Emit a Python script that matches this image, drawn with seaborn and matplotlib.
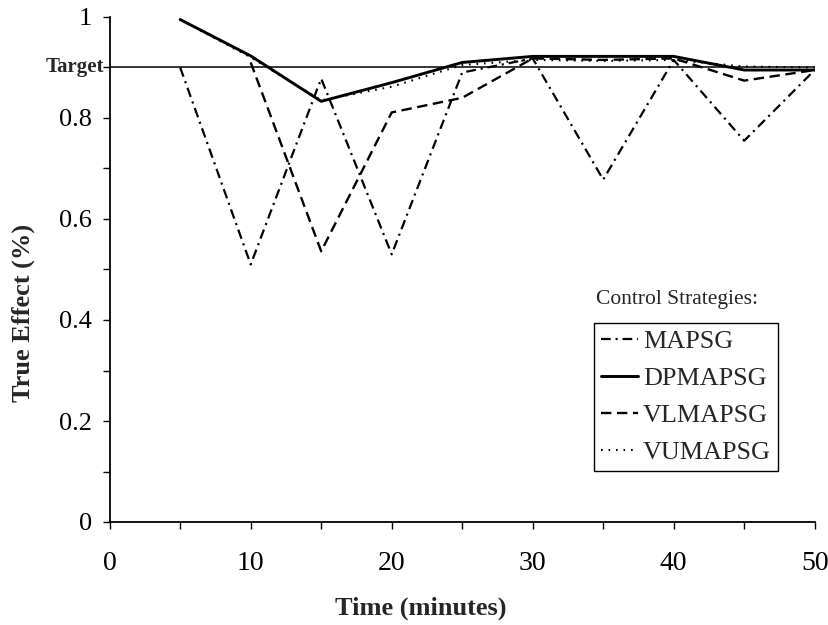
import numpy as np
import pandas as pd
import matplotlib
matplotlib.use("Agg")
import matplotlib.pyplot as plt
import matplotlib.transforms as mtransforms
import seaborn as sns

# ---- data ----
time_min = [5, 10, 15, 20, 25, 30, 35, 40, 45, 50]
mapsg   = [0.900, 0.510, 0.878, 0.530, 0.890, 0.918, 0.678, 0.915, 0.755, 0.895]
dpmapsg = [0.995, 0.923, 0.833, 0.870, 0.910, 0.922, 0.922, 0.922, 0.895, 0.895]
vlmapsg = [np.nan, 0.910, 0.536, 0.811, 0.840, 0.918, 0.915, 0.918, 0.874, 0.895]
vumapsg = [0.995, 0.920, 0.835, 0.862, 0.905, 0.915, 0.913, 0.915, 0.902, 0.900]
series_names = ["MAPSG", "DPMAPSG", "VLMAPSG", "VUMAPSG"]
TARGET = 0.9
y_major = [0, 0.2, 0.4, 0.6, 0.8, 1]
y_major_labels = ["0", "0.2", "0.4", "0.6", "0.8", "1"]
y_minor = [0.1, 0.3, 0.5, 0.7, 0.9]
x_ticks = [0, 10, 20, 30, 40, 50]
x_minor = [5, 15, 25, 35, 45]

sns.set_style("ticks")
plt.rcParams["font.family"] = ["Liberation Serif", "DejaVu Serif"]
plt.rcParams["lines.scale_dashes"] = False

fig = plt.figure(figsize=(8.29, 6.25), dpi=100)
ax = fig.add_axes([109.7 / 829, 103 / 625, 705 / 829, 505 / 625])

styles = {
    "MAPSG":   dict(linestyle=(0, (7, 3.5, 1.5, 3.5)), linewidth=1.6),
    "DPMAPSG": dict(linestyle="-", linewidth=2.1),
    "VLMAPSG": dict(linestyle=(0, (7.5, 4)), linewidth=1.7),
    "VUMAPSG": dict(linestyle=(0, (1.2, 4.2)), linewidth=1.5),
}
values = {"MAPSG": mapsg, "DPMAPSG": dpmapsg, "VLMAPSG": vlmapsg, "VUMAPSG": vumapsg}

ax.axhline(TARGET, color="black", linewidth=1.1, zorder=1)

for name in series_names:
    df = pd.DataFrame({"t": time_min, "v": values[name]}).dropna()
    sns.lineplot(data=df, x="t", y="v", ax=ax, color="black", label=name,
                 zorder=3, **styles[name])

ax.set_xlim(0, 50)
ax.set_ylim(0, 1)
ax.set_xticks(x_ticks)
ax.set_xticks(x_minor, minor=True)
ax.set_yticks(y_major)
ax.set_yticklabels(y_major_labels)
ax.set_yticks(y_minor, minor=True)

for s in ["top", "right"]:
    ax.spines[s].set_visible(False)
for s in ["left", "bottom"]:
    ax.spines[s].set_linewidth(1.3)
    ax.spines[s].set_color("black")

ax.tick_params(axis="x", which="both", direction="out", length=5, width=1.0,
               labelsize=20, pad=16, colors="black")
ax.tick_params(axis="y", which="both", direction="out", length=5, width=1.0,
               labelsize=19, pad=7.5, colors="black")

ax.set_xlabel("Time (minutes)", fontsize=19, fontweight="bold")
ax.set_ylabel("True Effect (%)", fontsize=19, fontweight="bold")
ax.xaxis.label.set_va("center")
ax.xaxis.set_label_coords(0.4415, -0.170)
ax.yaxis.set_label_coords(-0.106, 0.414)

trans = mtransforms.blended_transform_factory(ax.transAxes, ax.transData)
ax.text(-0.008, TARGET, "Target", transform=trans, ha="right", va="center",
        fontsize=15, fontweight="bold")

ax.text(0.69, 0.44, "Control Strategies:", transform=ax.transAxes,
        ha="left", va="center", fontsize=15.5)

leg = ax.legend(loc="upper left", bbox_to_anchor=(0.687, 0.395), borderaxespad=0,
                fontsize=18.8, frameon=True, fancybox=False, framealpha=1,
                edgecolor="black", handlelength=1.4, handletextpad=0.2,
                labelspacing=0.52, borderpad=0.28)
leg.get_frame().set_linewidth(1.0)

fig.savefig("out.png", dpi=100)
